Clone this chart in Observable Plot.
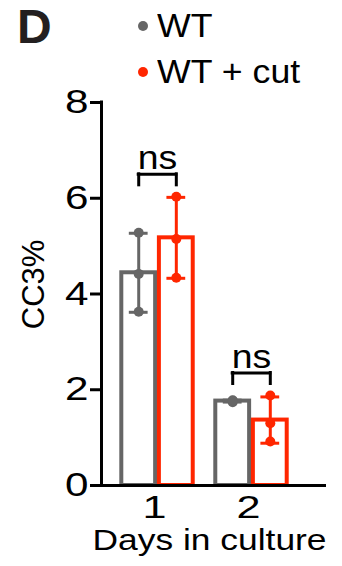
<!DOCTYPE html>
<html><head><meta charset="utf-8">
<script src="https://cdn.jsdelivr.net/npm/d3@7"></script>
<script src="https://cdn.jsdelivr.net/npm/@observablehq/plot@0.6"></script>
<style>
body{margin:0;background:#fff;}
#wrap{position:relative;width:342px;height:566px;overflow:hidden;font-family:"Liberation Sans",Arial,sans-serif;}
#head{position:absolute;left:0;top:0;width:342px;height:88px;}
.lbl{position:absolute;white-space:nowrap;line-height:1;}
.panel{left:17px;top:3px;font-size:48px;font-weight:bold;color:#231f20;}
.item{font-size:34px;left:157px;color:#000;transform:scaleX(1.05);transform-origin:left center;}
.sw{position:absolute;width:10px;height:10px;border-radius:50%;}
#chart{position:absolute;left:0;top:88px;}
</style></head>
<body><div id="wrap"><div id="head"></div><div id="chart"></div></div>
<script>
// ---- data ----
const panelLabel = "D";
const days = [1, 2];
const groups = ["WT", "WT + cut"];
const colors = ["#666666", "#ff2600"];
const wtValues = [[5.28, 4.42, 3.63], [1.74, 1.77, 1.78]];
const cutValues = [[6.03, 5.15, 4.34], [1.88, 1.30, 0.92]];
const sigLabels = ["ns", "ns"];
const sigHeights = [6.5, 2.35];
const yTicks = [0, 2, 4, 6, 8];
const xLabel = "Days in culture";
const yLabel = "CC3%";

// ---- header (panel letter + legend) ----
const head = document.getElementById("head");
const p = document.createElement("div");
p.className = "lbl panel"; p.textContent = panelLabel; head.appendChild(p);
const legendTops = [8, 53.7];
const dotTops = [21, 67];
groups.forEach((g, i) => {
  const sw = document.createElement("div");
  sw.className = "sw"; sw.style.left = "138px"; sw.style.top = dotTops[i] + "px"; sw.style.background = colors[i];
  head.appendChild(sw);
  const t = document.createElement("div");
  t.className = "lbl item"; t.style.top = legendTops[i] + "px"; t.textContent = g;
  head.appendChild(t);
});

// ---- derived tables ----
const offset = g => (g === 0 ? -0.2 : 0.2);
const half = 0.18;
const summary = [], points = [];
days.forEach((day, i) => {
  [wtValues[i], cutValues[i]].forEach((vals, g) => {
    const xc = day + offset(g);
    vals.forEach(v => points.push({day, group: groups[g], xc, value: v}));
    summary.push({day, group: groups[g], xc, mean: d3.mean(vals), sd: d3.deviation(vals)});
  });
});
const brackets = days.map((day, i) => ({day, label: sigLabels[i], y: sigHeights[i]}));
const xMin = 0.404, xMax = 2.798;

const svg = Plot.plot({
  width: 342, height: 478,
  marginTop: 14, marginBottom: 81, marginLeft: 101, marginRight: 16,
  x: {domain: [xMin, xMax], axis: null},
  y: {domain: [0, 8], axis: null},
  color: {domain: groups, range: colors},
  style: {fontFamily: "'Liberation Sans', Arial, sans-serif", color: "#000", background: "transparent", overflow: "visible"},
  marks: [
    Plot.rectY(summary, {x1: d => d.xc - half, x2: d => d.xc + half, y1: 0, y2: "mean", stroke: "group", fill: "white", strokeWidth: 4}),
    Plot.ruleX(summary, {x: "xc", y1: d => d.mean - d.sd, y2: d => d.mean + d.sd, stroke: "group", strokeWidth: 3}),
    Plot.ruleY(summary, {x1: d => d.xc - 0.1, x2: d => d.xc + 0.1, y: d => d.mean + d.sd, stroke: "group", strokeWidth: 3}),
    Plot.ruleY(summary, {x1: d => d.xc - 0.1, x2: d => d.xc + 0.1, y: d => d.mean - d.sd, stroke: "group", strokeWidth: 3}),
    Plot.dot(points, {x: "xc", y: "value", r: 5, fill: "group"}),
    Plot.ruleY([0], {x1: xMin, x2: xMax, strokeWidth: 3}),
    Plot.ruleX([xMin], {y1: 0, y2: 8, strokeWidth: 3, strokeLinecap: "square"}),
    Plot.axisY({ticks: yTicks, tickSize: 11, tickPadding: 2, strokeWidth: 3, fontSize: 33, label: null, tickFormat: d => `${d}`}),
    Plot.axisX({ticks: days, tickSize: 0, tickPadding: 10, fontSize: 32, dx: -3, label: null, tickFormat: d => `${d}`}),
    Plot.ruleY(brackets, {x1: d => d.day - 0.2, x2: d => d.day + 0.2, y: "y", strokeWidth: 3, strokeLinecap: "square"}),
    Plot.ruleX(brackets, {x: d => d.day - 0.2, y1: d => d.y - 0.23, y2: "y", strokeWidth: 3, strokeLinecap: "square"}),
    Plot.ruleX(brackets, {x: d => d.day + 0.2, y1: d => d.y - 0.23, y2: "y", strokeWidth: 3, strokeLinecap: "square"}),
    Plot.text(brackets, {x: "day", y: "y", text: "label", dy: -5, lineAnchor: "bottom", fontSize: 34}),
    Plot.text([xLabel], {text: d => d, frameAnchor: "bottom", lineAnchor: "top", dy: 44, dx: -4.5, fontSize: 29.5}),
    Plot.text([yLabel], {text: d => d, x: xMin, y: 4.2, rotate: -90, dx: -67.5, fontSize: 31})
  ]
});
document.getElementById("chart").appendChild(svg);

// horizontal widening of the (wide) label face, around each text's own anchor
function widen(t, f) {
  let tr = t.getAttribute("transform") || "";
  const x = t.getAttribute("x");
  if (x !== null && !/[a-z%]/i.test(x)) {
    tr += ` translate(${x},0)`;
    t.removeAttribute("x");
  }
  t.setAttribute("transform", `${tr} scale(${f},1)`.trim());
}
svg.querySelectorAll('g[aria-label="y-axis tick label"] text').forEach(t => widen(t, 1.28));
svg.querySelectorAll('g[aria-label="x-axis tick label"] text').forEach(t => widen(t, 1.35));
svg.querySelectorAll('g[aria-label="text"] text').forEach(t => {
  const s = t.textContent.trim();
  if (s === xLabel) widen(t, 1.2);
  else if (sigLabels.includes(s)) widen(t, 1.1);
});
</script>
</body></html>
